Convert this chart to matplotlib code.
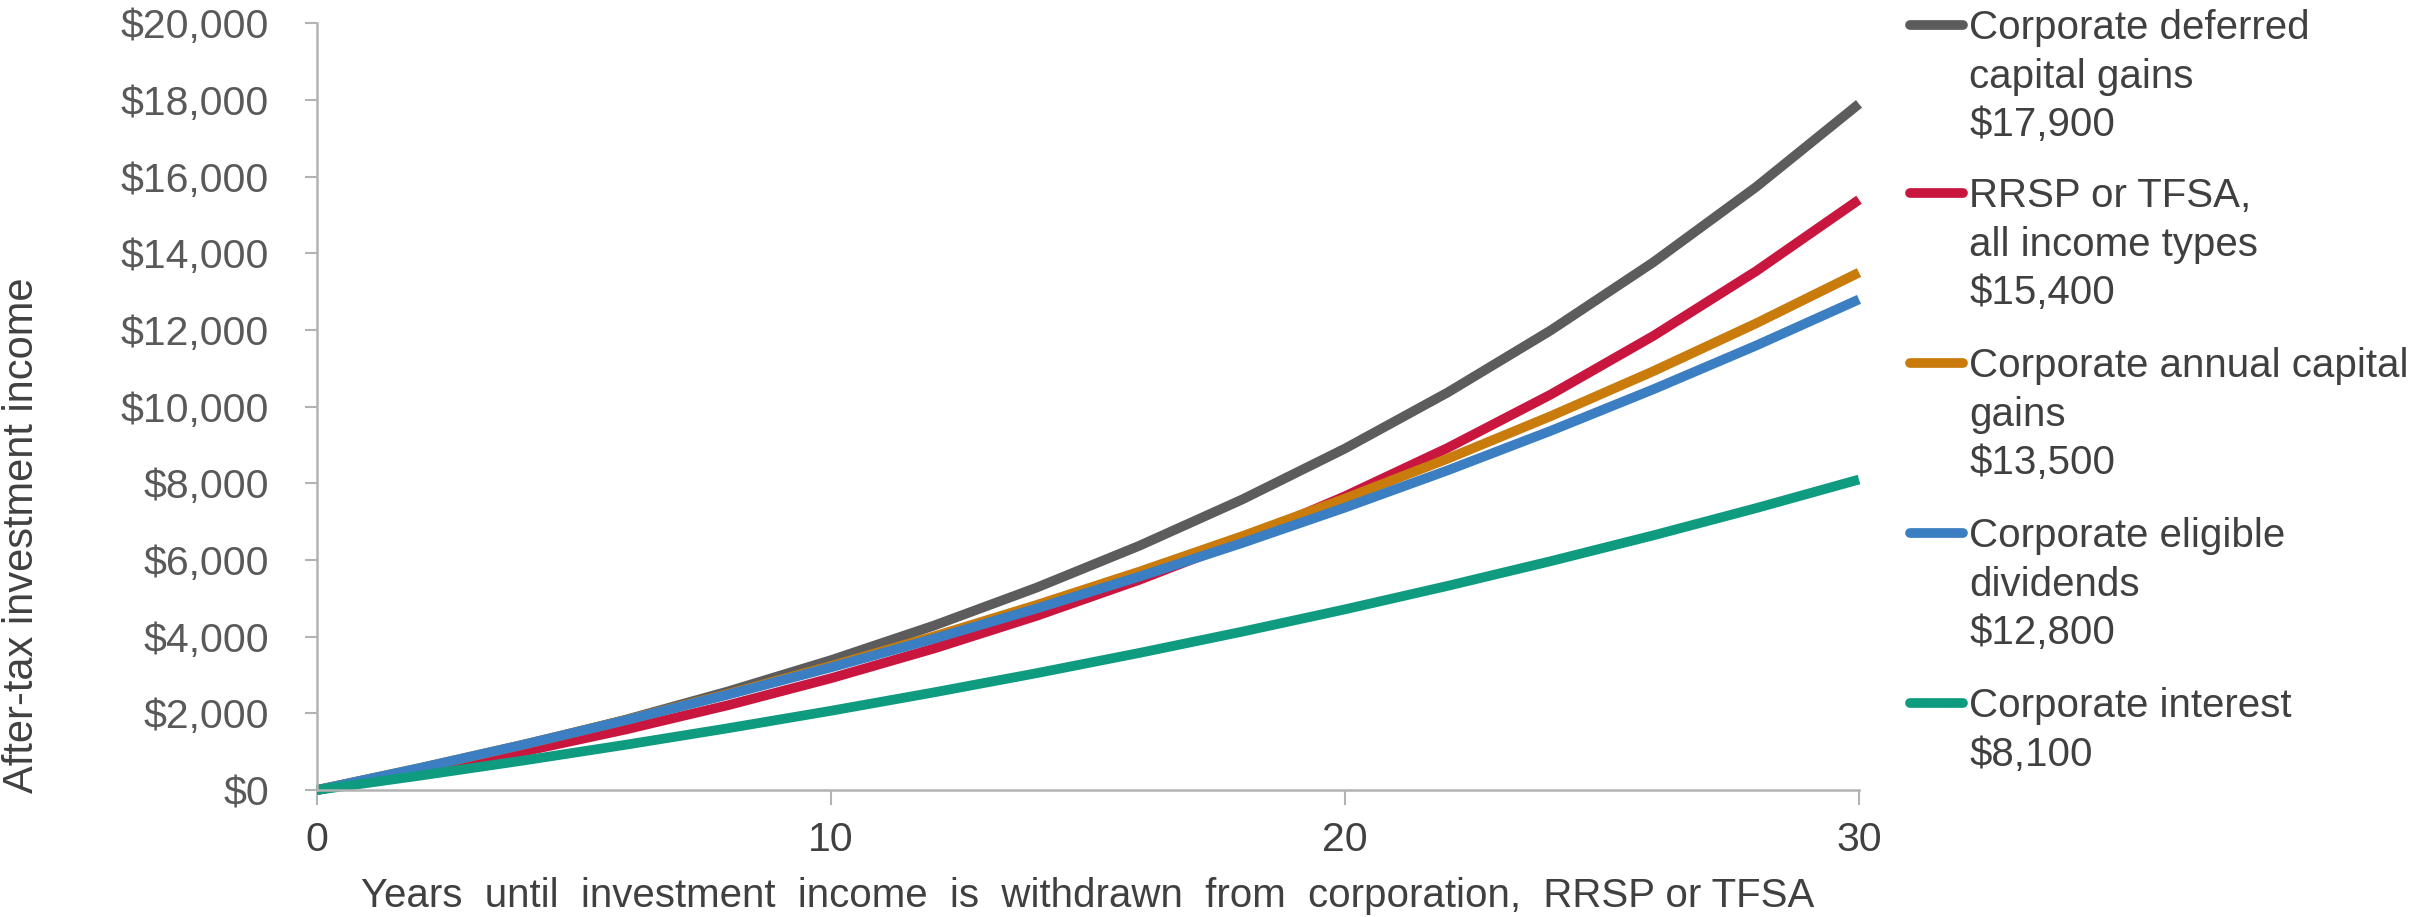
import matplotlib
matplotlib.use("Agg")
import matplotlib.pyplot as plt
from matplotlib.lines import Line2D
from matplotlib.ticker import FuncFormatter, MultipleLocator

plt.rcParams["font.family"] = ["Liberation Sans", "DejaVu Sans"]
plt.rcParams["text.parse_math"] = False

# Years until withdrawal
years = [0, 2, 4, 6, 8, 10, 12, 14, 16, 18, 20, 22, 24, 26, 28, 30]

# After-tax investment income by investment type ($)
deferred_cap_gains = [0, 552, 1161, 1832, 2573, 3388, 4288, 5280, 6373, 7579,
                      8908, 10373, 11989, 13770, 15734, 17900]
rrsp_tfsa = [0, 475, 999, 1577, 2213, 2916, 3690, 4543, 5484, 6521,
             7665, 8926, 10316, 11848, 13538, 15400]
annual_cap_gains = [0, 572, 1179, 1824, 2508, 3235, 4007, 4827, 5697, 6622,
                    7603, 8645, 9752, 10927, 12175, 13500]
eligible_dividends = [0, 574, 1179, 1817, 2490, 3199, 3947, 4736, 5567, 6444,
                      7368, 8341, 9369, 10454, 11596, 12800]
interest = [0, 374, 766, 1179, 1612, 2067, 2546, 3048, 3576, 4131,
            4713, 5326, 5969, 6644, 7354, 8100]

series_labels = [
    ["Corporate deferred", "capital gains"],
    ["RRSP or TFSA,", "all income types"],
    ["Corporate annual capital", "gains"],
    ["Corporate eligible", "dividends"],
    ["Corporate interest"],
]
series_values = [deferred_cap_gains, rrsp_tfsa, annual_cap_gains,
                 eligible_dividends, interest]
colors = ["#5C5C5C", "#C9163F", "#C97B0C", "#3B7FC2", "#0E9B7F"]

x_ticks = [0, 10, 20, 30]
x_title = "Years  until  investment  income  is  withdrawn  from  corporation,  RRSP or TFSA"
y_title = "After-tax investment income"

W, H = 2433, 917
fig = plt.figure(figsize=(W / 100, H / 100), dpi=100)
ax = fig.add_axes([317 / W, (H - 790) / H, (1859 - 317) / W, (790 - 23.4) / H])

LW = 7.0
for vals, col in zip(series_values, colors):
    ax.plot(years, vals, color=col, lw=LW, solid_capstyle="butt",
            solid_joinstyle="round", clip_on=False)

ax.set_xlim(0, 30)
ax.set_ylim(0, 20000)
ax.set_xticks(x_ticks)
ax.yaxis.set_major_locator(MultipleLocator(2000))
ax.yaxis.set_major_formatter(FuncFormatter(lambda v, p: f"${v:,.0f}"))

axis_col = "#B3B3B3"
for side in ("top", "right"):
    ax.spines[side].set_visible(False)
for side in ("left", "bottom"):
    ax.spines[side].set_color(axis_col)
    ax.spines[side].set_linewidth(1.8)

ax.tick_params(axis="y", direction="out", length=8.6, width=1.5, color=axis_col,
               labelsize=29.5, labelcolor="#595959", pad=26)
ax.tick_params(axis="x", direction="out", length=10.5, width=1.5, color=axis_col,
               labelsize=29.5, labelcolor="#404040", pad=12)

# Axis titles
fig.text(22 / W, (H - 535) / H, y_title, rotation=90, ha="center", va="center",
         fontsize=30, color="#404040")
fig.text(1088 / W, (H - 907) / H, x_title, ha="center", va="baseline",
         fontsize=29, color="#404040")

# Legend beside the plot: swatch on the first line, value on the last line
first_line_y = [25, 193, 363, 533, 703]
line_step = 48.5
legend_size = 29
font_px = legend_size * 100 / 72
cap_half = 0.358 * font_px
for lines, vals, col, y0 in zip(series_labels, series_values, colors, first_line_y):
    fig.add_artist(Line2D([1910 / W, 1963 / W], [(H - y0) / H, (H - y0) / H],
                          transform=fig.transFigure, color=col, lw=LW,
                          solid_capstyle="round"))
    all_lines = lines + [f"${vals[-1]:,.0f}"]
    for k, txt in enumerate(all_lines):
        yc = y0 + k * line_step
        fig.text(1969 / W, (H - (yc + cap_half)) / H, txt, ha="left",
                 va="baseline", fontsize=legend_size, color="#404040")

fig.savefig("out.png", dpi=100, facecolor="white")
